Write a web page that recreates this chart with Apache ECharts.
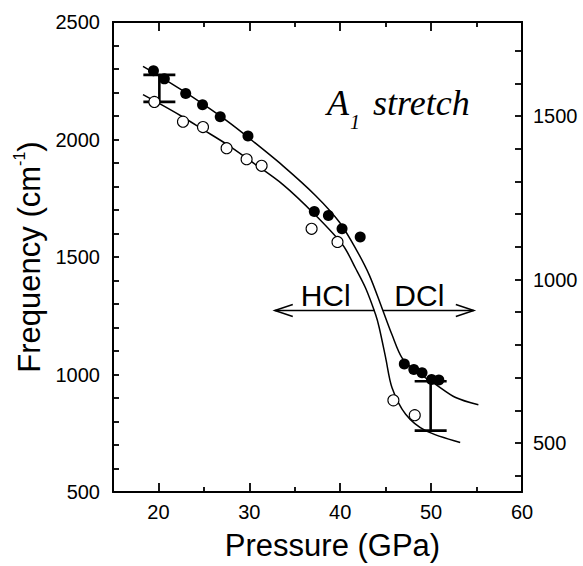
<!DOCTYPE html>
<html>
<head>
<meta charset="utf-8">
<script src="https://cdn.jsdelivr.net/npm/echarts@6/dist/echarts.min.js"></script>
<style>
  html, body { margin: 0; padding: 0; background: #fff; }
  #chart { width: 583px; height: 566px; }
</style>
</head>
<body>
<div id="chart"></div>
<script>
// measured points, filled circles (upper branch)
var filledP = [19.45, 20.65, 23.0, 24.85, 26.8, 29.85, 37.15, 38.7, 40.2, 42.2, 47.05, 48.1, 49.0, 50.05, 50.85];
var filledF = [2293, 2258, 2196, 2148, 2097, 2015, 1694, 1677, 1620, 1585, 1045, 1021, 1007, 979, 977];
// open circles (lower branch)
var openP = [19.55, 22.7, 24.9, 27.5, 29.7, 31.35, 36.85, 39.7, 45.85, 48.2];
var openF = [2160, 2076, 2053, 1963, 1916, 1888, 1620, 1564, 890, 827];

// fitted curves
var upperP = [18.3, 20, 22.5, 25, 27.5, 30, 33.7, 37.3, 39.9, 41.7, 43.2, 44.6, 45.7, 46.8, 48.3, 50.5, 52.7, 55.2];
var upperF = [2311, 2272, 2212, 2148, 2080, 2005, 1888, 1761, 1649, 1536, 1423, 1282, 1169, 1071, 1015, 958, 902, 871];
var lowerP = [18.3, 20, 22.5, 25, 27.5, 30, 33.7, 37.3, 40.3, 41.7, 42.8, 43.9, 44.3, 45.0, 45.7, 47.2, 49.4, 53.2];
var lowerF = [2191, 2155, 2100, 2040, 1980, 1912, 1808, 1677, 1550, 1451, 1367, 1254, 1198, 1071, 944, 831, 761, 711];

// error bars
var errP = [20.1, 49.95];
var errLo = [2160, 761];
var errHi = [2275, 971];

// HCl / DCl arrows
var arrowFrom = [43.8, 44.7];
var arrowTo = [32.8, 54.7];
var arrowF = [1272, 1272];
var tagText = ['HCl', 'DCl'];
var tagP = [38.4, 48.7];
var tagF = [1337, 1337];

// axes
var xMajor = [20, 30, 40, 50, 60];
var xMinor = [25, 35, 45, 55];
var yLabels = [500, 1000, 1500, 2000, 2500];
var rightTicks = [400, 500, 600, 700, 800, 900, 1000, 1100, 1200, 1300, 1400, 1500, 1600, 1700];
var rightLabels = [500, 1000, 1500];

function zip(a, b) {
  return a.map(function (v, i) { return [v, b[i]]; });
}
function plain(v) { return String(v); }

var font = '"Liberation Sans", Arial, sans-serif';
var black = '#000';

function xAx(pos, ticks, len, labels) {
  return {
    type: 'value', position: pos, min: 15, max: 60,
    axisLine: { show: !!labels || pos === 'top', lineStyle: { color: black, width: 2 } },
    axisTick: { inside: true, length: len, customValues: ticks, lineStyle: { color: black, width: 1.8 } },
    axisLabel: labels ? { customValues: labels, formatter: plain, margin: 10, fontSize: 20, color: black, fontFamily: font } : { show: false },
    splitLine: { show: false }
  };
}

var bottomMajor = xAx('bottom', xMajor, 9, xMajor);
bottomMajor.name = 'Pressure (GPa)';
bottomMajor.nameLocation = 'middle';
bottomMajor.nameGap = 38;
bottomMajor.nameTextStyle = { fontSize: 31, color: black, fontFamily: font, padding: [0, 0, 0, 30] };

var chart = echarts.init(document.getElementById('chart'), null, { renderer: 'svg' });
chart.setOption({
  animation: false,
  backgroundColor: '#fff',
  grid: { left: 113, right: 61, top: 22, bottom: 71, containLabel: false },
  xAxis: [
    bottomMajor,
    xAx('bottom', xMinor, 5, null),
    xAx('top', xMajor, 9, null),
    xAx('top', xMinor, 5, null)
  ],
  yAxis: [
    {
      type: 'value', position: 'left', min: 500, max: 2500, interval: 100,
      axisLine: { show: true, lineStyle: { color: black, width: 2 } },
      axisTick: { inside: true, length: 6, lineStyle: { color: black, width: 1.8 } },
      axisLabel: { customValues: yLabels, formatter: plain, margin: 13, fontSize: 20, color: black, fontFamily: font },
      splitLine: { show: false },
      name: '{a|Frequency (cm}{s|-1}{a|)}',
      nameLocation: 'middle',
      nameGap: 62,
      nameTextStyle: {
        color: black, fontFamily: font, fontSize: 31,
        rich: {
          a: { fontSize: 31, fontFamily: font, color: black, lineHeight: 36 },
          s: { fontSize: 16, fontFamily: font, color: black, verticalAlign: 'top', lineHeight: 36 }
        }
      }
    },
    {
      type: 'value', position: 'right', min: 350, max: 1788,
      axisLine: { show: true, lineStyle: { color: black, width: 2 } },
      axisTick: { inside: true, length: 7, customValues: rightTicks, lineStyle: { color: black, width: 1.8 } },
      axisLabel: { customValues: rightLabels, formatter: plain, margin: 11, fontSize: 20, color: black, fontFamily: font },
      splitLine: { show: false }
    }
  ],
  graphic: [
    { type: 'text', x: 327, y: 103, style: { text: 'A', font: 'italic 36px "Liberation Serif"', fill: black, verticalAlign: 'middle', align: 'left' } },
    { type: 'text', x: 350, y: 122, style: { text: '1', font: 'italic 20px "Liberation Serif"', fill: black, verticalAlign: 'middle', align: 'left' } },
    { type: 'text', x: 373, y: 103, style: { text: 'stretch', font: 'italic 36px "Liberation Serif"', fill: black, verticalAlign: 'middle', align: 'left' } }
  ],
  series: [
    {
      type: 'line', data: zip(upperP, upperF), smooth: 0.3,
      symbol: 'none', lineStyle: { color: black, width: 1.5 }, z: 2
    },
    {
      type: 'line', data: zip(lowerP, lowerF), smooth: 0.3,
      symbol: 'none', lineStyle: { color: black, width: 1.5 }, z: 2
    },
    {
      type: 'custom', z: 3,
      data: zip(errP, errLo).map(function (d, i) { return [d[0], d[1], errHi[i]]; }),
      renderItem: function (params, api) {
        var lo = api.coord([api.value(0), api.value(1)]);
        var hi = api.coord([api.value(0), api.value(2)]);
        var w = 16;
        var st = { stroke: black, lineWidth: 2.6 };
        return {
          type: 'group', children: [
            { type: 'line', shape: { x1: lo[0], y1: lo[1], x2: hi[0], y2: hi[1] }, style: st },
            { type: 'line', shape: { x1: lo[0] - w, y1: lo[1], x2: lo[0] + w, y2: lo[1] }, style: st },
            { type: 'line', shape: { x1: hi[0] - w, y1: hi[1], x2: hi[0] + w, y2: hi[1] }, style: st }
          ]
        };
      }
    },
    {
      type: 'custom', z: 3,
      data: arrowFrom.map(function (v, i) { return [v, arrowTo[i], arrowF[i]]; }),
      renderItem: function (params, api) {
        var a = api.coord([api.value(0), api.value(2)]);
        var b = api.coord([api.value(1), api.value(2)]);
        var dir = b[0] > a[0] ? 1 : -1;
        var st = { stroke: black, lineWidth: 1.5, fill: null };
        return {
          type: 'group', children: [
            { type: 'line', shape: { x1: a[0], y1: a[1], x2: b[0], y2: b[1] }, style: st },
            { type: 'polyline', shape: { points: [[b[0] - dir * 18, b[1] - 6], [b[0], b[1]], [b[0] - dir * 18, b[1] + 6]] }, style: st }
          ]
        };
      }
    },
    {
      type: 'custom', z: 3,
      data: zip(tagP, tagF),
      renderItem: function (params, api) {
        var p = api.coord([api.value(0), api.value(1)]);
        return {
          type: 'text', x: p[0], y: p[1],
          style: { text: tagText[params.dataIndex], font: '30px "Liberation Sans"', fill: black, align: 'center', verticalAlign: 'middle' }
        };
      }
    },
    {
      type: 'scatter', data: zip(filledP, filledF), symbol: 'circle', symbolSize: 11,
      itemStyle: { color: black, opacity: 1 }, z: 4
    },
    {
      type: 'scatter', data: zip(openP, openF), symbol: 'circle', symbolSize: 11,
      itemStyle: { color: '#fff', borderColor: black, borderWidth: 1.1, opacity: 1 }, z: 4
    }
  ]
});
</script>
</body>
</html>
